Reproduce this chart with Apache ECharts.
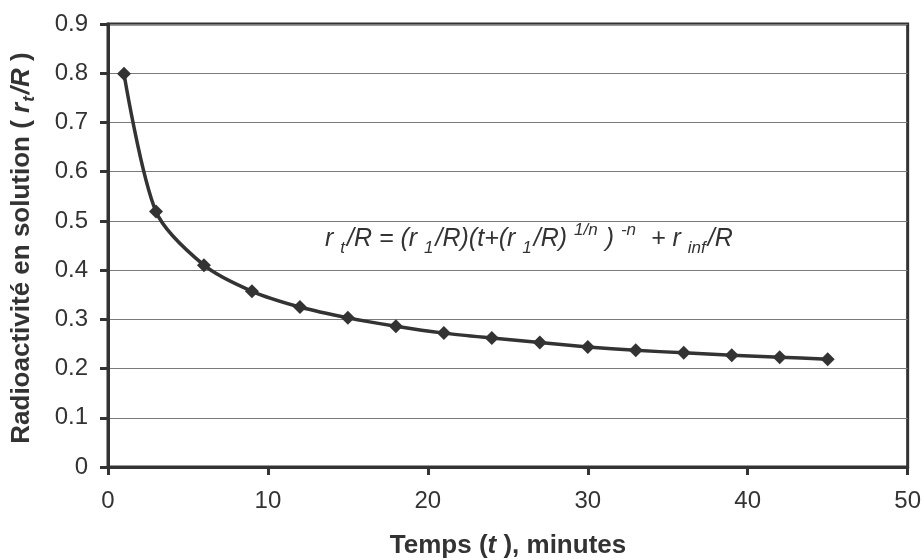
<!DOCTYPE html>
<html>
<head>
<meta charset="utf-8">
<script src="https://cdn.jsdelivr.net/npm/echarts@6/dist/echarts.min.js"></script>
<style>
html,body{margin:0;padding:0;background:#fff;}
#c{width:924px;height:560px;}
</style>
</head>
<body>
<div id="c"></div>
<script>
// Data
var times = [1, 3, 6, 9, 12, 15, 18, 21, 24, 27, 30, 33, 36, 39, 42, 45];
var ratios = [0.799, 0.519, 0.41, 0.357, 0.325, 0.303, 0.286, 0.272, 0.262, 0.253, 0.244, 0.237, 0.232, 0.227, 0.223, 0.219];
var xTicks = [0, 10, 20, 30, 40, 50];
var yTicks = [0, 0.1, 0.2, 0.3, 0.4, 0.5, 0.6, 0.7, 0.8, 0.9];

var FONT = '"Liberation Sans", Arial, sans-serif';
var DARK = '#333333';

var points = times.map(function (t, i) { return [t, ratios[i]]; });

var chart = echarts.init(document.getElementById('c'));
chart.setOption({
  animation: false,
  backgroundColor: '#ffffff',
  grid: {
    left: 108, right: 14, top: 24, bottom: 93,
    show: true, borderColor: DARK, borderWidth: 3, backgroundColor: 'transparent'
  },
  xAxis: {
    type: 'value', min: 0, max: 50, interval: 10,
    axisLine: { show: true, lineStyle: { color: DARK, width: 3 } },
    axisTick: { show: true, inside: false, length: 8, lineStyle: { color: DARK, width: 3 } },
    axisLabel: { margin: 22, fontFamily: FONT, fontSize: 24, color: DARK },
    splitLine: { show: false }
  },
  yAxis: {
    type: 'value', min: 0, max: 0.9, interval: 0.1,
    axisLine: { show: true, lineStyle: { color: DARK, width: 3 } },
    axisTick: { show: true, inside: false, length: 8, lineStyle: { color: DARK, width: 3 } },
    axisLabel: {
      margin: 20, fontFamily: FONT, fontSize: 24, color: DARK,
      formatter: function (v) { return String(Math.round(v * 10) / 10); }
    },
    splitLine: { show: true, lineStyle: { color: '#7a7a7a', width: 1.2 } }
  },
  series: [{
    type: 'line',
    data: points,
    smooth: 0.28,
    symbol: 'diamond',
    symbolSize: 14,
    showAllSymbol: true,
    lineStyle: { color: DARK, width: 3.5 },
    itemStyle: { color: DARK, borderWidth: 0 }
  }],
  graphic: [
    {
      type: 'text', left: 325, top: 222,
      style: {
        text: 'r {sub|t}/R = (r {sub|1}/R)(t+(r {sub|1}/R) {sup|1/n} ) {sup|-n}  + r {sub|inf}/R',
        fontFamily: FONT, fontSize: 25, fontStyle: 'italic', fill: DARK,
        lineHeight: 35,
        rich: {
          sub: { fontFamily: FONT, fontSize: 17, fontStyle: 'italic', fill: DARK, lineHeight: 19, verticalAlign: 'bottom', padding: [0, 2, 0, 0] },
          sup: { fontFamily: FONT, fontSize: 17, fontStyle: 'italic', fill: DARK, lineHeight: 15, verticalAlign: 'top', padding: [0, 1, 0, 0] }
        }
      }
    },
    {
      type: 'text', x: 508, y: 546,
      style: {
        text: 'Temps ({it|t} ), minutes',
        fontFamily: FONT, fontSize: 26, fontWeight: 'bold', fill: DARK,
        align: 'center', verticalAlign: 'middle',
        rich: { it: { fontFamily: FONT, fontSize: 26, fontWeight: 'bold', fontStyle: 'italic', fill: DARK } }
      }
    },
    {
      type: 'text', x: 22, y: 248, rotation: Math.PI / 2,
      style: {
        text: 'Radioactivité en solution ( {it|r}{sub|t}{it|/R} )',
        fontFamily: FONT, fontSize: 26, fontWeight: 'bold', fill: DARK,
        align: 'center', verticalAlign: 'middle', lineHeight: 32,
        rich: {
          it: { fontFamily: FONT, fontSize: 26, fontWeight: 'bold', fontStyle: 'italic', fill: DARK, lineHeight: 32 },
          sub: { fontFamily: FONT, fontSize: 17, fontWeight: 'bold', fontStyle: 'italic', fill: DARK, lineHeight: 17, verticalAlign: 'bottom', padding: [0, 2, 0, 1] }
        }
      }
    }
  ]
});
</script>
</body>
</html>
